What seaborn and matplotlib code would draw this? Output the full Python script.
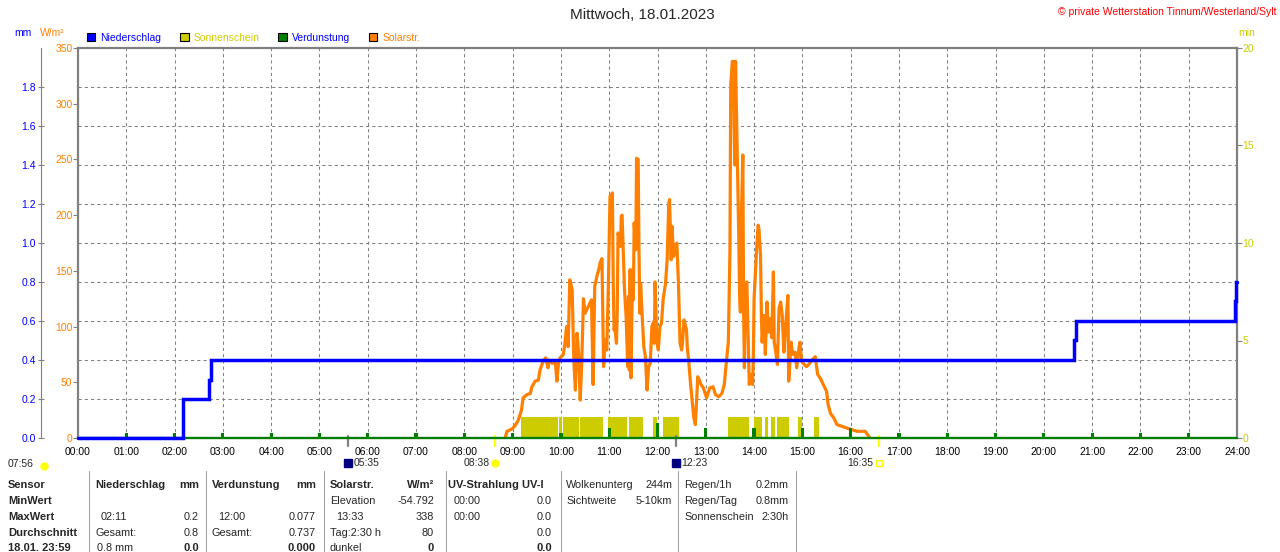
import numpy as np
import matplotlib
matplotlib.use('Agg')
import matplotlib.pyplot as plt
import matplotlib.transforms as mtransforms
from matplotlib.lines import Line2D
from matplotlib.patches import Patch
from matplotlib.ticker import FixedLocator
import seaborn as sns

W, H = 1280, 552

# Niederschlag kumuliert (Minuten seit Mitternacht, mm)
rain_min = [0, 130, 131, 163, 165, 1237, 1240, 1438, 1439, 1440]
rain_mm = [0.0, 0.1, 0.2, 0.3, 0.4, 0.5, 0.6, 0.7, 0.8, 0.8]

# Verdunstung je Stunde (mm)
evap_min = [60, 120, 180, 240, 300, 360, 420, 480, 540, 600, 660, 720,
            780, 840, 900, 960, 1020, 1080, 1140, 1200, 1260, 1320, 1380]
evap_mm = [0.024, 0.024, 0.024, 0.024, 0.024, 0.024, 0.024, 0.024, 0.024, 0.024,
           0.05, 0.077, 0.05, 0.05, 0.05, 0.05,
           0.024, 0.024, 0.024, 0.024, 0.024, 0.024, 0.024]

# Sonnenschein (Abschnitte in Minuten, Wert in min)
sun_start = [551, 597, 603, 624, 659, 684, 715, 727, 808, 840, 853, 861, 869, 895, 915]
sun_end = [596, 601, 622, 652, 682, 702, 719, 747, 834, 850, 857, 866, 884, 899, 921]
sun_val = [1.08, 1.08, 1.08, 1.08, 1.08, 1.08, 1.08, 1.08, 1.08, 1.08, 1.08, 1.08, 1.08, 1.08, 1.08]

# Solarstrahlung (W/m²)
solar_min = [531, 533, 539, 543, 547, 551, 553, 558, 562, 564, 568, 572, 574, 578, 581,
             584, 585, 589, 593, 595, 597, 599, 603, 605, 607, 609, 611, 614, 616, 618,
             620, 622, 624, 626, 628, 630, 632, 634, 636, 638, 640, 642, 645, 647, 649,
             651, 653, 655, 657, 659, 661, 663, 664, 665, 666, 667, 669, 670, 671, 674,
             675, 676, 678, 679, 681, 683, 684, 685, 686, 687, 689, 690, 691, 693, 694,
             696, 697, 698, 699, 701, 703, 705, 707, 709, 711, 713, 715, 716, 717, 719,
             721, 723, 725, 727, 730, 732, 734, 735, 737, 738, 740, 742, 744, 746, 748,
             750, 751, 753, 756, 757, 759, 761, 763, 765, 767, 768, 770, 772, 774, 777,
             781, 785, 789, 792, 796, 800, 803, 805, 808, 810, 811, 813, 814, 816, 817,
             818, 819, 821, 822, 823, 824, 826, 827, 828, 829, 831, 833, 834, 836, 838,
             839, 840, 843, 845, 846, 848, 849, 850, 852, 854, 856, 858, 860, 862, 864,
             865, 867, 869, 871, 873, 875, 877, 879, 882, 883, 886, 888, 891, 893, 895,
             897, 899, 901, 905, 908, 912, 916, 919, 922, 926, 930, 932, 935, 939, 943,
             951, 959, 968, 978, 981, 983, 984]
solar_wm2 = [1, 6, 8, 11, 16, 25, 36, 39, 40, 46, 51, 52, 61, 69, 72,
             63, 70, 67, 68, 51, 67, 72, 75, 85, 100, 82, 142, 133, 70, 43,
             94, 76, 34, 70, 125, 112, 115, 118, 121, 124, 48, 136, 146, 151, 158,
             161, 64, 88, 79, 139, 217, 218, 220, 139, 97, 100, 85, 115, 184, 172,
             199, 200, 154, 133, 109, 64, 127, 61, 151, 54, 151, 124, 193, 169, 251,
             250, 169, 112, 139, 109, 82, 73, 43, 64, 67, 100, 104, 85, 140, 88,
             79, 100, 103, 124, 139, 160, 211, 214, 160, 190, 163, 172, 175, 139, 85,
             79, 85, 106, 97, 82, 67, 49, 34, 19, 12, 25, 55, 52, 48, 45,
             36, 45, 46, 39, 37, 40, 48, 64, 86, 167, 317, 338, 338, 245, 338,
             299, 257, 179, 128, 113, 191, 254, 113, 63, 137, 140, 81, 48, 57, 48,
             69, 125, 167, 191, 188, 164, 113, 86, 110, 75, 122, 95, 107, 90, 149,
             86, 77, 66, 116, 122, 110, 77, 98, 128, 51, 86, 75, 77, 63, 77,
             86, 69, 67, 64, 66, 70, 73, 57, 54, 48, 42, 30, 22, 18, 12,
             10, 8, 6, 6, 3, 1, 0]

# Mond / Sonne
event_time = ['05:35', '08:38', '12:23', '16:35']
event_kind = ['moon', 'sunrise', 'moon', 'sunset']
day_length = '07:56'

legend_names = ['Niederschlag', 'Sonnenschein', 'Verdunstung', 'Solarstr.']

BLUE = '#0000FF'
ORANGE = '#FF8000'
YELLOW = '#CCCC00'
GREEN = '#008000'
GRAY = '#808080'

sns.set_style('white')
plt.rcParams['font.family'] = ['Liberation Sans', 'DejaVu Sans']


def fx(x):
    return x / W


def fy(y):
    return 1 - y / H


fig = plt.figure(figsize=(W / 100, H / 100), dpi=100)
ax = fig.add_axes([fx(78), fy(438), 1159 / W, 390 / H])
ax_sol = ax.twinx()
ax_mm = ax.twinx()
ax.set_zorder(1)
ax_sol.set_zorder(2)
ax_mm.set_zorder(3)

# Sonnenschein auf der min-Achse
ax.bar(sun_start, sun_val, width=np.subtract(sun_end, sun_start), align='edge',
       color=YELLOW, linewidth=0, zorder=2)

# Solarstrahlung
sns.lineplot(x=solar_min, y=solar_wm2, ax=ax_sol, color=ORANGE, linewidth=2.3,
             sort=False, estimator=None)

# Verdunstung + Niederschlag
ax_mm.axhline(0, color=GREEN, linewidth=1.6, clip_on=False, zorder=1)
ax_mm.bar(evap_min, evap_mm, width=4, color=GREEN, linewidth=0, zorder=2)
sns.lineplot(x=rain_min, y=rain_mm, ax=ax_mm, color=BLUE, linewidth=2.5,
             drawstyle='steps-post', sort=False, estimator=None, clip_on=False,
             solid_joinstyle='miter')

# Achsen
ax.set_xlim(0, 1440)
ax.set_xticks(np.arange(0, 1441, 60))
ax.set_xticklabels([f'{h:02d}:00' for h in range(25)])
ax.tick_params(axis='x', length=2.5, pad=4, color=GRAY, labelsize=7.5, labelcolor='black')

ax.set_ylim(0, 20)
ax.yaxis.tick_right()
ax.set_yticks([0, 5, 10, 15, 20])
ax.yaxis.set_minor_locator(FixedLocator([2, 4, 6, 8, 10, 12, 14, 16, 18]))
ax.yaxis.remove_overlapping_locs = False
ax.tick_params(axis='y', which='major', length=3.5, pad=0.5, color=GRAY,
               labelcolor=YELLOW, labelsize=7.5, right=True, left=False)
ax.tick_params(axis='y', which='minor', length=0)
ax.set_axisbelow(True)
ax.grid(True, axis='x', which='major', color=GRAY, linestyle=(0, (3, 3)), linewidth=0.75)
ax.grid(True, axis='y', which='minor', color=GRAY, linestyle=(0, (3, 3)), linewidth=0.75)
for s in ax.spines.values():
    s.set_color(GRAY)
    s.set_linewidth(1.6)

ax_sol.set_ylim(0, 350)
ax_sol.yaxis.tick_left()
ax_sol.set_yticks(np.arange(0, 351, 50))
ax_sol.tick_params(axis='y', length=3.5, pad=0.5, color=GRAY, labelcolor=ORANGE,
                   labelsize=7.5, left=True, right=False)
for s in ax_sol.spines.values():
    s.set_visible(False)

ax_mm.set_ylim(0, 2.0)
ax_mm.yaxis.tick_left()
mm_ticks = [0.0, 0.2, 0.4, 0.6, 0.8, 1.0, 1.2, 1.4, 1.6, 1.8]
ax_mm.set_yticks(mm_ticks)
ax_mm.set_yticklabels([f'{v:.1f}' for v in mm_ticks])
ax_mm.tick_params(axis='y', length=5, direction='inout', pad=1, color=GRAY,
                  labelcolor=BLUE, labelsize=7.5, left=True, right=False)
for name, s in ax_mm.spines.items():
    s.set_visible(name == 'left')
ax_mm.spines['left'].set_position(('outward', 37 * 0.72))
ax_mm.spines['left'].set_color(GRAY)
ax_mm.spines['left'].set_linewidth(0.8)

for a in (ax, ax_sol, ax_mm):
    a.set_xlabel('')
    a.set_ylabel('')

# Mond- und Sonnenereignisse unter der Zeitachse
trans = mtransforms.blended_transform_factory(ax.transData, ax.transAxes)
y_ev = -25 / 390
for lab, kind in zip(event_time, event_kind):
    hh, mi = lab.split(':')
    t = int(hh) * 60 + int(mi)
    tick_col = GRAY if kind == 'moon' else '#FFFF00'
    ax.plot([t, t], [-8 / 390, 2 / 390], transform=trans, color=tick_col, lw=1.6,
            clip_on=False, zorder=5)
    if kind == 'moon':
        ax.plot([t], [y_ev], transform=trans, marker='s', ms=6, color='#000080',
                clip_on=False)
        ax.annotate(lab, xy=(t, y_ev), xycoords=trans, xytext=(4, 0),
                    textcoords='offset points', ha='left', va='center', fontsize=7.5)
    else:
        if kind == 'sunrise':
            ax.plot([t], [y_ev], transform=trans, marker='o', ms=5, color='#FFFF00',
                    clip_on=False)
        else:
            ax.plot([t], [y_ev], transform=trans, marker='s', ms=4, mfc='none',
                    mec='#FFFF00', mew=1, clip_on=False)
        ax.annotate(lab, xy=(t, y_ev), xycoords=trans, xytext=(-4, 0),
                    textcoords='offset points', ha='right', va='center', fontsize=7.5)

fig.text(fx(8), fy(464), day_length, ha='left', va='center', fontsize=7.5)
ax.plot([fx(44)], [fy(466)], transform=fig.transFigure, marker='o', ms=5,
        color='#FFFF00', clip_on=False)

# Kopfzeile
fig.text(fx(642), fy(15), 'Mittwoch, 18.01.2023', ha='center', va='center', fontsize=11)
fig.text(fx(1276), fy(12), '© private Wetterstation Tinnum/Westerland/Sylt',
         ha='right', va='center', fontsize=7.5, color='#FF0000')
fig.text(fx(14), fy(33), 'mm', ha='left', va='center', fontsize=7.5, color=BLUE)
fig.text(fx(40), fy(33), 'W/m²', ha='left', va='center', fontsize=7.5, color=ORANGE)
fig.text(fx(1238), fy(33), 'min', ha='left', va='center', fontsize=7.5, color=YELLOW)

handles = [Patch(facecolor=c, edgecolor='black', linewidth=0.8)
           for c in (BLUE, YELLOW, GREEN, ORANGE)]
leg = fig.legend(handles, legend_names, loc='center left', bbox_to_anchor=(fx(87), fy(38)),
                 ncol=4, frameon=False, fontsize=7.5, handlelength=0.8, handleheight=0.8,
                 handletextpad=0.5, columnspacing=1.8, borderpad=0, borderaxespad=0)
for txt, c in zip(leg.get_texts(), (BLUE, YELLOW, BLUE, ORANGE)):
    txt.set_color(c)

# Tabelle
rows_y = [485, 501, 517, 533, 548]
for x in (88.5, 205.5, 323.5, 445.5, 560.5, 677.5, 795.5):
    fig.add_artist(Line2D([fx(x), fx(x)], [fy(471), 0], color='#A0A0A0', lw=0.75,
                          transform=fig.transFigure))

cells = [
    # (x, row, text, ha, bold)
    (8, 0, 'Sensor', 'left', True), (8, 1, 'MinWert', 'left', True),
    (8, 2, 'MaxWert', 'left', True), (8, 3, 'Durchschnitt', 'left', True),
    (8, 4, '18.01. 23:59', 'left', True),
    (95, 0, 'Niederschlag', 'left', True), (199, 0, 'mm', 'right', True),
    (101, 2, '02:11', 'left', False), (199, 2, '0.2', 'right', False),
    (95, 3, 'Gesamt:', 'left', False), (199, 3, '0.8', 'right', False),
    (97, 4, '0.8 mm', 'left', False), (199, 4, '0.0', 'right', True),
    (212, 0, 'Verdunstung', 'left', True), (316, 0, 'mm', 'right', True),
    (218, 2, '12:00', 'left', False), (316, 2, '0.077', 'right', False),
    (212, 3, 'Gesamt:', 'left', False), (316, 3, '0.737', 'right', False),
    (316, 4, '0.000', 'right', True),
    (330, 0, 'Solarstr.', 'left', True), (434, 0, 'W/m²', 'right', True),
    (330, 1, 'Elevation', 'left', False), (434, 1, '-54.792', 'right', False),
    (336, 2, '13:33', 'left', False), (434, 2, '338', 'right', False),
    (330, 3, 'Tag:2:30 h', 'left', False), (434, 3, '80', 'right', False),
    (330, 4, 'dunkel', 'left', False), (434, 4, '0', 'right', True),
    (448, 0, 'UV-Strahlung UV-I', 'left', True),
    (454, 1, '00:00', 'left', False), (552, 1, '0.0', 'right', False),
    (454, 2, '00:00', 'left', False), (552, 2, '0.0', 'right', False),
    (552, 3, '0.0', 'right', False), (552, 4, '0.0', 'right', True),
    (566, 0, 'Wolkenunterg', 'left', False), (672, 0, '244m', 'right', False),
    (566, 1, 'Sichtweite', 'left', False), (672, 1, '5-10km', 'right', False),
    (684, 0, 'Regen/1h', 'left', False), (789, 0, '0.2mm', 'right', False),
    (684, 1, 'Regen/Tag', 'left', False), (789, 1, '0.8mm', 'right', False),
    (684, 2, 'Sonnenschein', 'left', False), (789, 2, '2:30h', 'right', False),
]
for x, r, s, ha, bold in cells:
    fig.text(fx(x), fy(rows_y[r]), s, ha=ha, va='center',
             fontsize=8 if bold else 7.8, fontweight='bold' if bold else 'normal')

fig.savefig('out.png', dpi=100)
